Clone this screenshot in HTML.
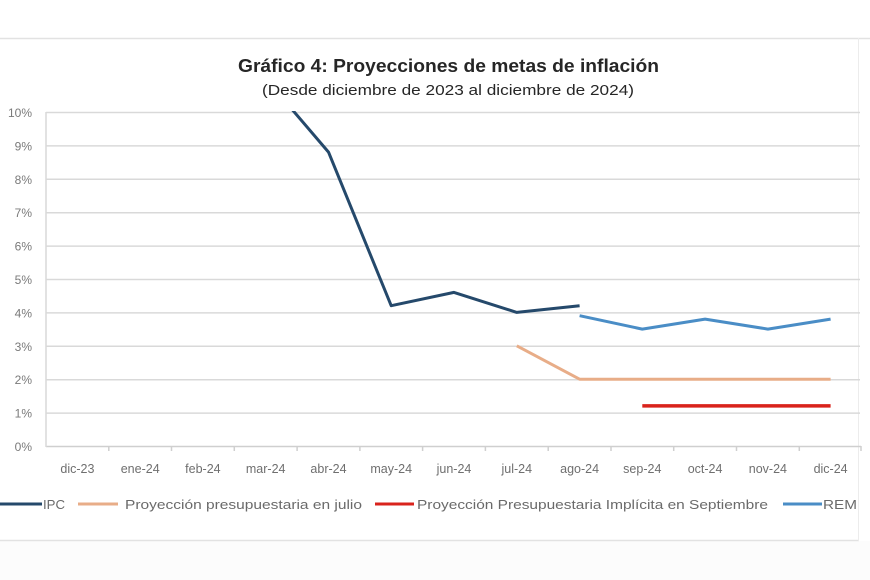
<!DOCTYPE html>
<html><head><meta charset="utf-8"><style>
html,body{margin:0;padding:0;background:#fff;}
svg{display:block;}
text{font-family:"Liberation Sans",sans-serif;}
</style></head><body>
<svg width="870" height="580" viewBox="0 0 870 580" xmlns="http://www.w3.org/2000/svg">
<rect x="0" y="0" width="870" height="580" fill="#ffffff"/>
<rect x="0" y="541" width="870" height="39" fill="#fcfcfc"/>
<!-- frame -->
<line x1="0" y1="38.5" x2="870" y2="38.5" stroke="#e2e2e2" stroke-width="1.5"/>
<line x1="0" y1="540.5" x2="859" y2="540.5" stroke="#e2e2e2" stroke-width="1.5"/>
<line x1="858.5" y1="38" x2="858.5" y2="541" stroke="#ececec" stroke-width="1"/>

<!-- title -->
<text x="238" y="72" font-size="18" font-weight="bold" fill="#262626" textLength="421" lengthAdjust="spacingAndGlyphs">Gráfico 4: Proyecciones de metas de inflación</text>
<text x="262" y="95" font-size="14.5" fill="#262626" textLength="372" lengthAdjust="spacingAndGlyphs">(Desde diciembre de 2023 al diciembre de 2024)</text>

<!-- gridlines -->
<g stroke="#d9d9d9" stroke-width="1.5">
<line x1="46" y1="112.5" x2="860" y2="112.5"/>
<line x1="46" y1="145.9" x2="860" y2="145.9"/>
<line x1="46" y1="179.3" x2="860" y2="179.3"/>
<line x1="46" y1="212.7" x2="860" y2="212.7"/>
<line x1="46" y1="246.1" x2="860" y2="246.1"/>
<line x1="46" y1="279.5" x2="860" y2="279.5"/>
<line x1="46" y1="312.9" x2="860" y2="312.9"/>
<line x1="46" y1="346.3" x2="860" y2="346.3"/>
<line x1="46" y1="379.7" x2="860" y2="379.7"/>
<line x1="46" y1="413.1" x2="860" y2="413.1"/>
</g>
<line x1="46" y1="446.5" x2="861" y2="446.5" stroke="#cfcfcf" stroke-width="1.5"/>
<line x1="46" y1="112" x2="46" y2="447" stroke="#d9d9d9" stroke-width="1.5"/>
<!-- ticks -->
<g stroke="#cfcfcf" stroke-width="1.5">
<line x1="108.8" y1="446" x2="108.8" y2="451"/>
<line x1="171.5" y1="446" x2="171.5" y2="451"/>
<line x1="234.3" y1="446" x2="234.3" y2="451"/>
<line x1="297.1" y1="446" x2="297.1" y2="451"/>
<line x1="359.9" y1="446" x2="359.9" y2="451"/>
<line x1="422.6" y1="446" x2="422.6" y2="451"/>
<line x1="485.4" y1="446" x2="485.4" y2="451"/>
<line x1="548.2" y1="446" x2="548.2" y2="451"/>
<line x1="611" y1="446" x2="611" y2="451"/>
<line x1="673.7" y1="446" x2="673.7" y2="451"/>
<line x1="736.5" y1="446" x2="736.5" y2="451"/>
<line x1="799.3" y1="446" x2="799.3" y2="451"/>
<line x1="861" y1="446" x2="861" y2="451"/>
</g>

<!-- y labels -->
<g font-size="12" fill="#7a7a7a" text-anchor="end">
<text x="32" y="117">10%</text>
<text x="32" y="150.4">9%</text>
<text x="32" y="183.8">8%</text>
<text x="32" y="217.2">7%</text>
<text x="32" y="250.6">6%</text>
<text x="32" y="284">5%</text>
<text x="32" y="317.4">4%</text>
<text x="32" y="350.8">3%</text>
<text x="32" y="384.2">2%</text>
<text x="32" y="417.6">1%</text>
<text x="32" y="451">0%</text>
</g>

<!-- x labels -->
<g font-size="12.5" fill="#6f6f6f" text-anchor="middle">
<text x="77.4" y="473">dic-23</text>
<text x="140.2" y="473">ene-24</text>
<text x="202.9" y="473">feb-24</text>
<text x="265.7" y="473">mar-24</text>
<text x="328.5" y="473">abr-24</text>
<text x="391.2" y="473">may-24</text>
<text x="454" y="473">jun-24</text>
<text x="516.8" y="473">jul-24</text>
<text x="579.6" y="473">ago-24</text>
<text x="642.3" y="473">sep-24</text>
<text x="705.1" y="473">oct-24</text>
<text x="767.9" y="473">nov-24</text>
<text x="830.6" y="473">dic-24</text>
</g>

<defs><clipPath id="pc"><rect x="46" y="111" width="816" height="340"/></clipPath></defs>
<g clip-path="url(#pc)" fill="none" stroke-linejoin="round" stroke-width="3">
<!-- IPC -->
<polyline stroke="#25496b" points="202.9,5.2 265.7,78.6 328.5,152.1 391.2,305.7 454,292.4 516.8,312.4 579.6,305.7"/>
<!-- REM -->
<polyline stroke="#4a8dc6" points="579.6,315.7 642.3,329.1 705.1,319.1 767.9,329.1 830.6,319.1"/>
<!-- Orange -->
<polyline stroke="#e8ad88" points="516.8,345.8 579.6,379.2 642.3,379.2 705.1,379.2 767.9,379.2 830.6,379.2"/>
<!-- Red -->
<polyline stroke="#d9231c" stroke-width="3.5" points="642.3,405.9 705.1,405.9 767.9,405.9 830.6,405.9"/>
</g>

<!-- legend -->
<g stroke-width="3">
<line x1="0" y1="504" x2="42" y2="504" stroke="#25496b"/>
<line x1="78" y1="504" x2="118" y2="504" stroke="#e8ad88"/>
<line x1="375" y1="504" x2="414" y2="504" stroke="#d9231c"/>
<line x1="783" y1="504" x2="822" y2="504" stroke="#4a8dc6"/>
</g>
<g font-size="13" fill="#6a6a6a">
<text x="43" y="509" textLength="22" lengthAdjust="spacingAndGlyphs">IPC</text>
<text x="125" y="509" textLength="237" lengthAdjust="spacingAndGlyphs">Proyección presupuestaria en julio</text>
<text x="417" y="509" textLength="351" lengthAdjust="spacingAndGlyphs">Proyección Presupuestaria Implícita en Septiembre</text>
<text x="823" y="509" textLength="34" lengthAdjust="spacingAndGlyphs">REM</text>
</g>
</svg>
</body></html>
